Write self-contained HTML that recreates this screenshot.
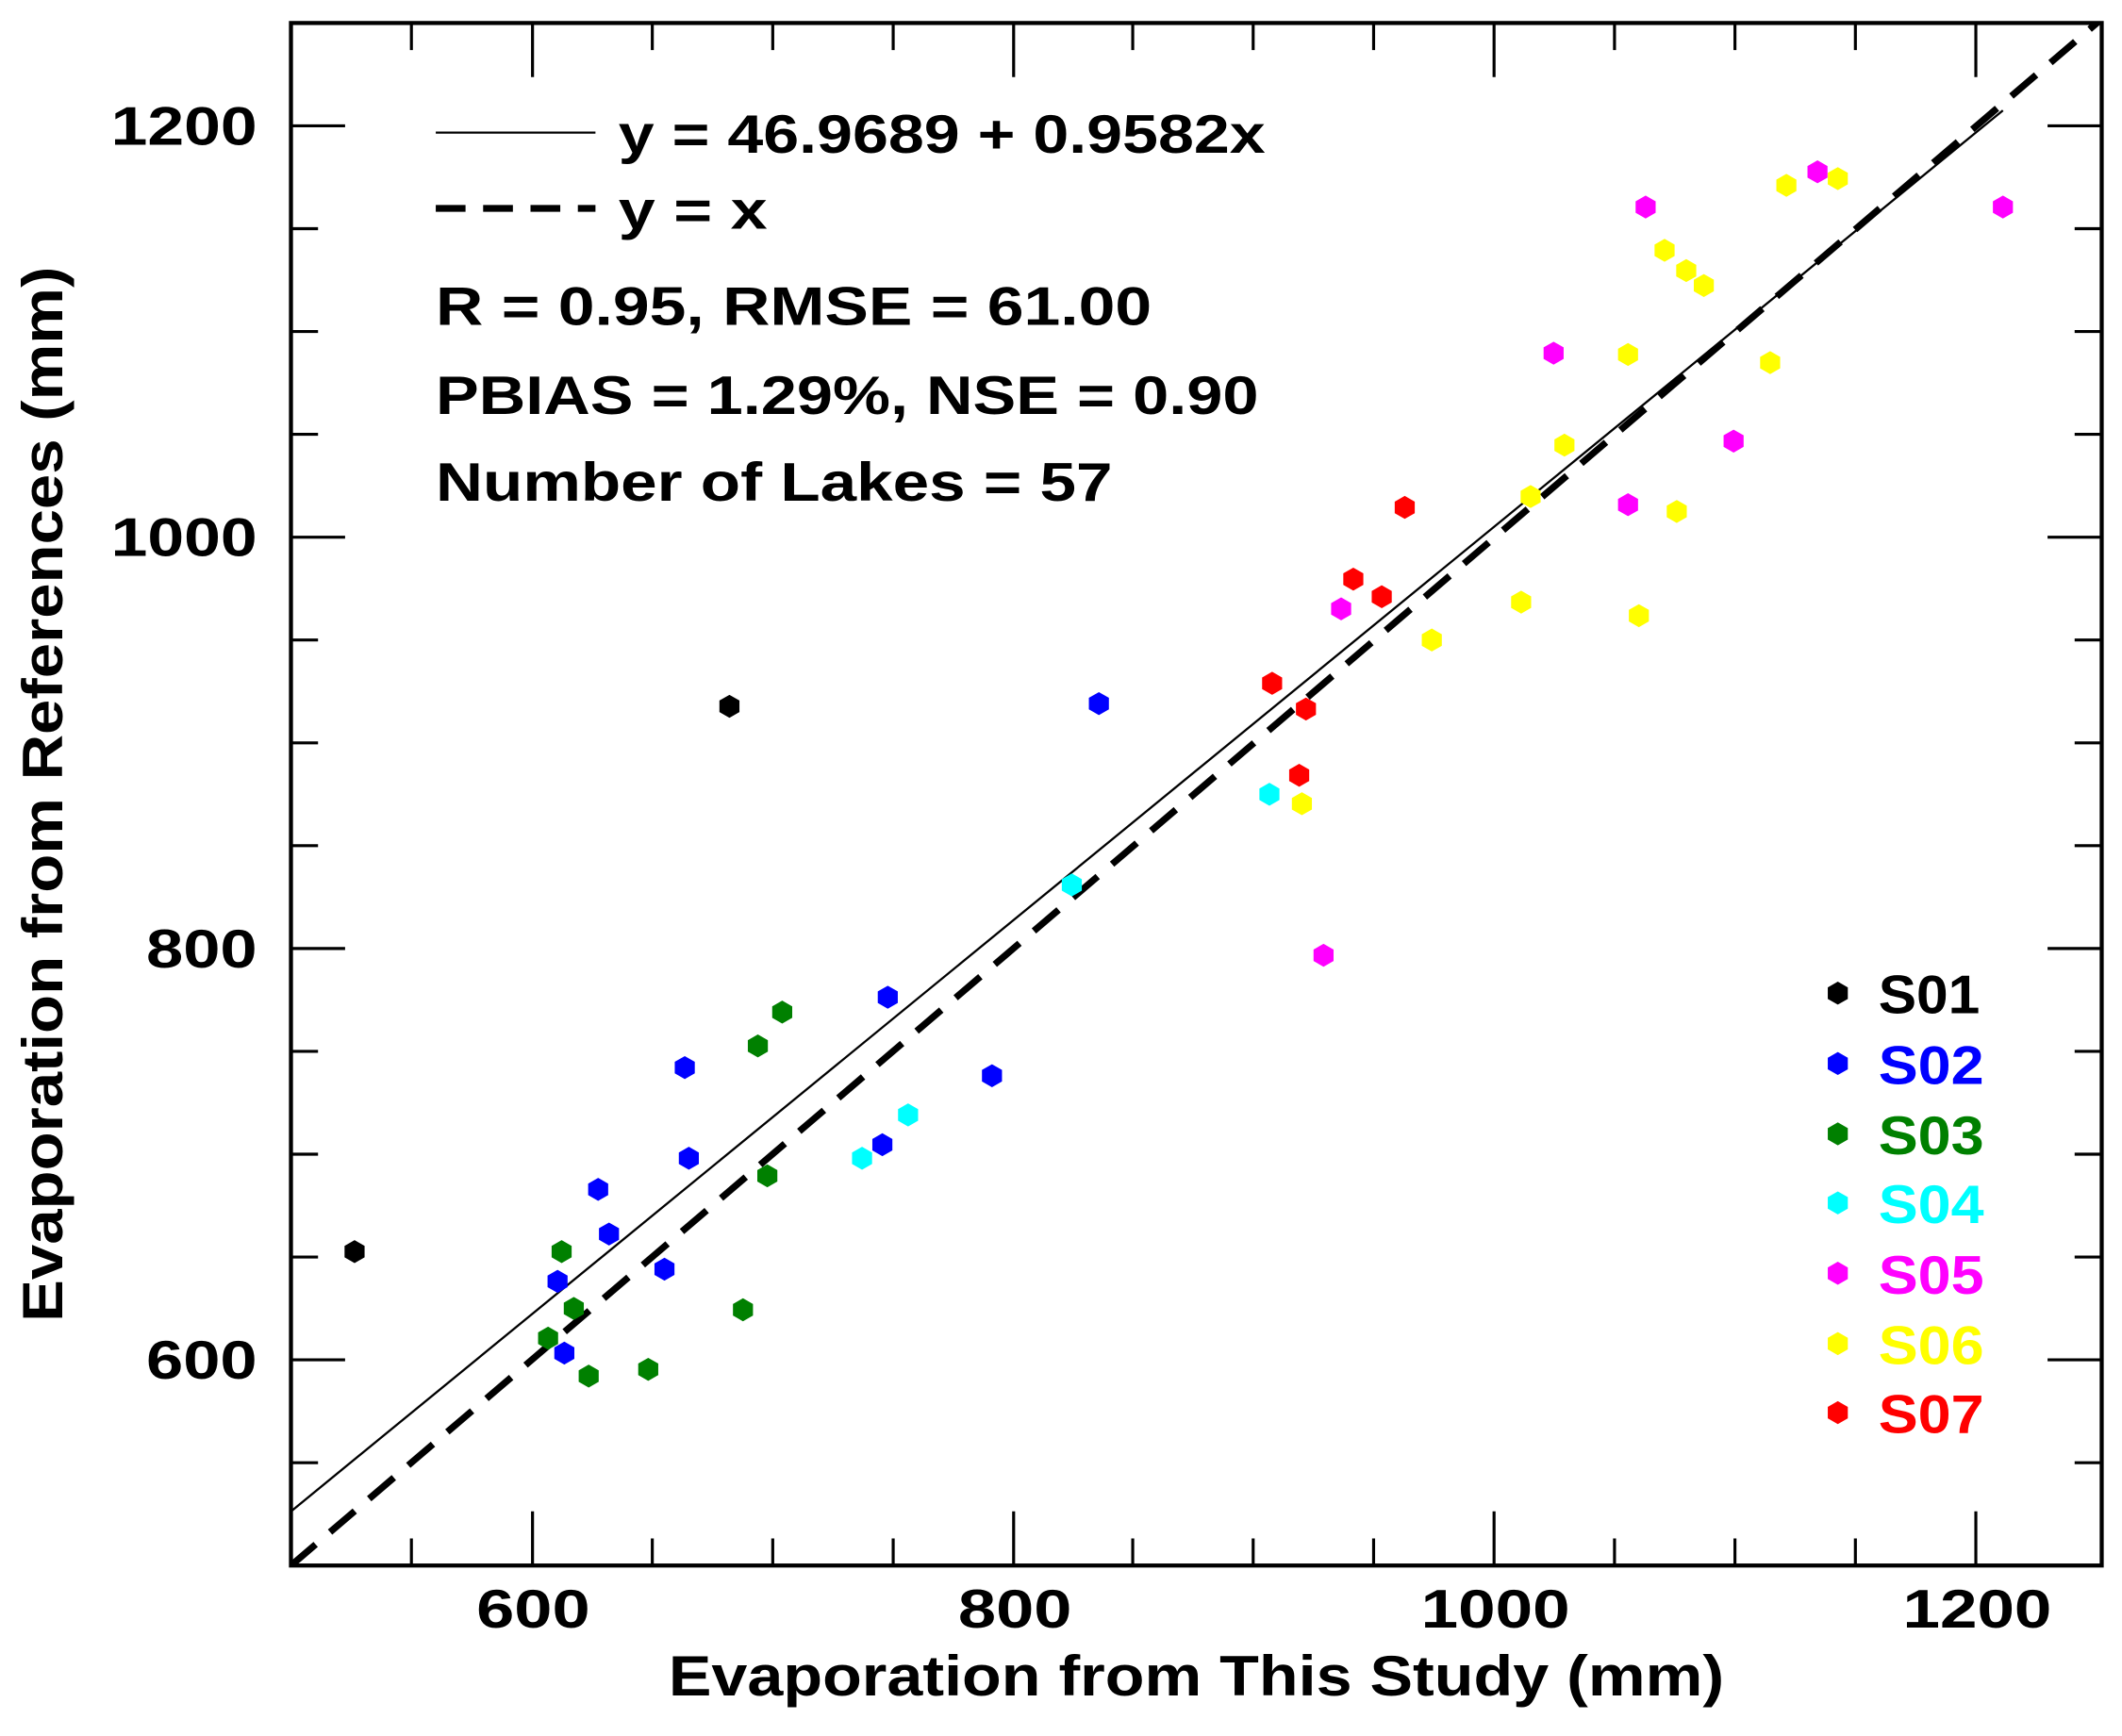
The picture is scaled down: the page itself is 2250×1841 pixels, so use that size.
<!DOCTYPE html>
<html><head><meta charset="utf-8"><style>html,body{margin:0;padding:0;background:#fff}svg{display:block}</style></head>
<body>
<svg xmlns="http://www.w3.org/2000/svg" width="2250" height="1841" viewBox="0 0 1568 1283" preserveAspectRatio="none" font-family="'Liberation Sans Narrow','Liberation Sans',sans-serif" font-weight="bold">
<defs>
<polygon id="h" points="0,-8.5 7.4,-4.25 7.4,4.25 0,8.5 -7.4,4.25 -7.4,-4.25"/>
<clipPath id="c"><rect x="215" y="17" width="1338" height="1140"/></clipPath>
</defs>
<rect x="215" y="17" width="1338" height="1140" fill="none" stroke="#000" stroke-width="3"/>
<g stroke="#000" stroke-width="2.2">
<path d="M304,1157v-20M393.5,1157v-40M482,1157v-20M571,1157v-20M660,1157v-20M749,1157v-40M837,1157v-20M926,1157v-20M1015,1157v-20M1104,1157v-40M1193,1157v-20M1282,1157v-20M1371,1157v-20M1460,1157v-40"/>
<path d="M304,17v20M393.5,17v40M482,17v20M571,17v20M660,17v20M749,17v40M837,17v20M926,17v20M1015,17v20M1104,17v40M1193,17v20M1282,17v20M1371,17v20M1460,17v40"/>
<path d="M215,1081h20M215,1005h40M215,929h20M215,853h20M215,777h20M215,701h40M215,625h20M215,549h20M215,473h20M215,397h40M215,321h20M215,245h20M215,169h20M215,93h40"/>
<path d="M1553,1081h-20M1553,1005h-40M1553,929h-20M1553,853h-20M1553,777h-20M1553,701h-40M1553,625h-20M1553,549h-20M1553,473h-20M1553,397h-40M1553,321h-20M1553,245h-20M1553,169h-20M1553,93h-40"/>
</g>
<g font-size="40" text-anchor="middle">
<text x="394" y="1203" textLength="84" lengthAdjust="spacingAndGlyphs">600</text>
<text x="750" y="1203" textLength="84" lengthAdjust="spacingAndGlyphs">800</text>
<text x="1105" y="1203" textLength="110" lengthAdjust="spacingAndGlyphs">1000</text>
<text x="1461" y="1203" textLength="110" lengthAdjust="spacingAndGlyphs">1200</text>
</g>
<g font-size="40" text-anchor="end">
<text x="190" y="107" textLength="108" lengthAdjust="spacingAndGlyphs">1200</text>
<text x="190" y="411" textLength="108" lengthAdjust="spacingAndGlyphs">1000</text>
<text x="190" y="715" textLength="82" lengthAdjust="spacingAndGlyphs">800</text>
<text x="190" y="1019" textLength="82" lengthAdjust="spacingAndGlyphs">600</text>
</g>
<text x="884" y="1253" font-size="42" text-anchor="middle" textLength="780" lengthAdjust="spacingAndGlyphs">Evaporation from This Study (mm)</text>
<text transform="translate(46,587) rotate(-90)" font-size="42" text-anchor="middle" textLength="780" lengthAdjust="spacingAndGlyphs">Evaporation from References (mm)</text>
<g clip-path="url(#c)">
<line x1="215" y1="1117" x2="1480" y2="81.6" stroke="#000" stroke-width="1.6"/>
<line x1="215" y1="1157" x2="1553" y2="14" stroke="#000" stroke-width="5" stroke-dasharray="24,14"/>
</g>
<line x1="322" y1="98" x2="440" y2="98" stroke="#000" stroke-width="1.6"/>
<line x1="322" y1="154" x2="440" y2="154" stroke="#000" stroke-width="5" stroke-dasharray="22,13"/>
<g font-size="40">
<text x="457" y="113" textLength="478" lengthAdjust="spacingAndGlyphs">y = 46.9689 + 0.9582x</text>
<text x="457" y="169" textLength="110" lengthAdjust="spacingAndGlyphs">y = x</text>
<text x="322" y="240" textLength="529" lengthAdjust="spacingAndGlyphs">R = 0.95, RMSE = 61.00</text>
<text x="322" y="306" textLength="608" lengthAdjust="spacingAndGlyphs">PBIAS = 1.29%, NSE = 0.90</text>
<text x="322" y="370" textLength="500" lengthAdjust="spacingAndGlyphs">Number of Lakes = 57</text>
</g>
<g fill="#000"><use href="#h" x="262" y="925"/><use href="#h" x="539" y="522"/></g>
<g fill="#0000ff"><use href="#h" x="812" y="520"/><use href="#h" x="656" y="737"/><use href="#h" x="506" y="789"/><use href="#h" x="733" y="795"/><use href="#h" x="509" y="856"/><use href="#h" x="652" y="846"/><use href="#h" x="442" y="879"/><use href="#h" x="450" y="912"/><use href="#h" x="412" y="947"/><use href="#h" x="491" y="938"/><use href="#h" x="417" y="1000"/></g>
<g fill="#008000"><use href="#h" x="578" y="748"/><use href="#h" x="560" y="773"/><use href="#h" x="567" y="869"/><use href="#h" x="415" y="925"/><use href="#h" x="424" y="967"/><use href="#h" x="405" y="989"/><use href="#h" x="435" y="1017"/><use href="#h" x="479" y="1012"/><use href="#h" x="549" y="968"/></g>
<g fill="#00ffff"><use href="#h" x="792" y="654"/><use href="#h" x="938" y="587"/><use href="#h" x="671" y="824"/><use href="#h" x="637" y="856"/></g>
<g fill="#ff00ff"><use href="#h" x="1343" y="127"/><use href="#h" x="1216" y="153"/><use href="#h" x="1480" y="153"/><use href="#h" x="1148" y="261"/><use href="#h" x="1281" y="326"/><use href="#h" x="1203" y="373"/><use href="#h" x="991" y="450"/><use href="#h" x="978" y="706"/></g>
<g fill="#ffff00"><use href="#h" x="1320" y="137"/><use href="#h" x="1358" y="132"/><use href="#h" x="1230" y="185"/><use href="#h" x="1246" y="200"/><use href="#h" x="1259" y="211"/><use href="#h" x="1203" y="262"/><use href="#h" x="1308" y="268"/><use href="#h" x="1156" y="329"/><use href="#h" x="1131" y="367"/><use href="#h" x="1239" y="378"/><use href="#h" x="1124" y="445"/><use href="#h" x="1211" y="455"/><use href="#h" x="1058" y="473"/><use href="#h" x="962" y="594"/></g>
<g fill="#ff0000"><use href="#h" x="1038" y="375"/><use href="#h" x="1000" y="428"/><use href="#h" x="1021" y="441"/><use href="#h" x="940" y="505"/><use href="#h" x="965" y="524"/><use href="#h" x="960" y="573"/></g>
<g font-size="40">
<use href="#h" x="1358" y="734" fill="#000"/><text x="1388" y="749" fill="#000" textLength="75" lengthAdjust="spacingAndGlyphs">S01</text>
<use href="#h" x="1358" y="786" fill="#0000ff"/><text x="1388" y="801" fill="#0000ff" textLength="78" lengthAdjust="spacingAndGlyphs">S02</text>
<use href="#h" x="1358" y="838" fill="#008000"/><text x="1388" y="853" fill="#008000" textLength="78" lengthAdjust="spacingAndGlyphs">S03</text>
<use href="#h" x="1358" y="889" fill="#00ffff"/><text x="1388" y="904" fill="#00ffff" textLength="78" lengthAdjust="spacingAndGlyphs">S04</text>
<use href="#h" x="1358" y="941" fill="#ff00ff"/><text x="1388" y="956" fill="#ff00ff" textLength="78" lengthAdjust="spacingAndGlyphs">S05</text>
<use href="#h" x="1358" y="993" fill="#ffff00"/><text x="1388" y="1008" fill="#ffff00" textLength="78" lengthAdjust="spacingAndGlyphs">S06</text>
<use href="#h" x="1358" y="1044" fill="#ff0000"/><text x="1388" y="1059" fill="#ff0000" textLength="78" lengthAdjust="spacingAndGlyphs">S07</text>
</g>
</svg>
</body></html>
